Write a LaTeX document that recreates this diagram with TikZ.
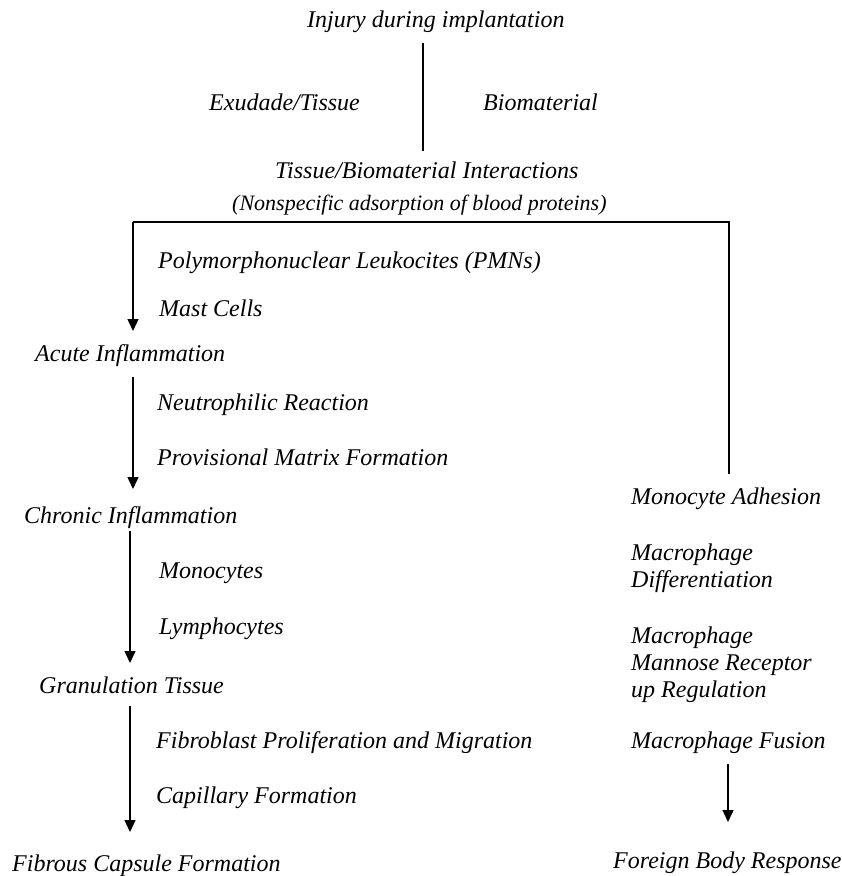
\documentclass[tikz,border=0pt]{standalone}
\usepackage{fontspec}
\setmainfont{Liberation Serif}
\usetikzlibrary{arrows.meta}
\begin{document}
\begin{tikzpicture}[x=1pt,y=-1pt,
  lbl/.style={inner sep=0pt, font=\fontsize{24}{27}\selectfont\itshape, anchor=base west},
  lblm/.style={inner sep=0pt, font=\fontsize{24}{27}\selectfont\itshape, anchor=north west, align=left},
  ln/.style={line width=1.5pt},
  thin/.style={line width=1.1pt},
  arr/.style={line width=1.4pt, -{Triangle[width=11pt,length=12pt]}}]
\useasboundingbox (0,0) rectangle (842,876);
% top
\node[lbl] (inj) at (307,27) {Injury during implantation};
\node[lbl] (exu) at (209,110) {Exudade/Tissue};
\node[lbl] (bio) at (483,110) {Biomaterial};
\node[lbl] (tbi) at (275,178) {Tissue/Biomaterial Interactions};
\node[lbl,font=\fontsize{22}{27}\selectfont\itshape] (nsa) at (232,210) {(Nonspecific adsorption of blood proteins)};
\coordinate (c1) at (423,43);
\coordinate (c2) at (423,151);
\draw[ln] (c1) -- (c2);
% branch
\coordinate (bl) at (133,222);
\coordinate (br) at (729,222);
\coordinate (rm) at (729,293);
\coordinate (lt) at (133,331);
\coordinate (rt) at (729,474);
\draw[ln] (rm) -- (br) -- (bl);
\draw[thin] (rm) -- (rt);
\draw[arr] (bl) -- (lt);
% left column
\node[lbl] (pmn) at (158,268) {Polymorphonuclear Leukocites (PMNs)};
\node[lbl] (mast) at (159,316) {Mast Cells};
\node[lbl] (acute) at (35,361) {Acute Inflammation};
\coordinate (a1) at (133,377);
\coordinate (a2) at (133,489);
\draw[arr] (a1) -- (a2);
\node[lbl] (neu) at (157,410) {Neutrophilic Reaction};
\node[lbl] (pmf) at (157,465) {Provisional Matrix Formation};
\node[lbl] (chron) at (24,523) {Chronic Inflammation};
\coordinate (b1) at (130,531);
\coordinate (b2) at (130,663);
\draw[arr] (b1) -- (b2);
\node[lbl] (mono) at (159,578) {Monocytes};
\node[lbl] (lymph) at (159,634) {Lymphocytes};
\node[lbl] (gran) at (39,693) {Granulation Tissue};
\coordinate (d1) at (130,706);
\coordinate (d2) at (130,832);
\draw[arr] (d1) -- (d2);
\node[lbl] (fib) at (156,748) {Fibroblast Proliferation and Migration};
\node[lbl] (cap) at (156,803) {Capillary Formation};
\node[lbl] (fcf) at (12,871) {Fibrous Capsule Formation};
% right column
\node[lbl] (madh) at (631,504) {Monocyte Adhesion};
\node[lblm] (mdiff) at (631,543.5) {Macrophage\\Differentiation};
\node[lblm] (mman) at (631,626.5) {Macrophage\\Mannose Receptor\\up Regulation};
\node[lbl] (mfus) at (631,748) {Macrophage Fusion};
\coordinate (e1) at (728,764);
\coordinate (e2) at (728,822);
\draw[arr] (e1) -- (e2);
\node[lbl] (fbr) at (613,868) {Foreign Body Response};
\end{tikzpicture}
\end{document}
